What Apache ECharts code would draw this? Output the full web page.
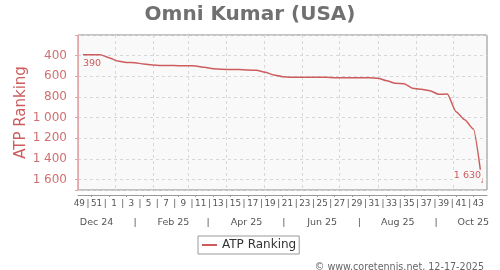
<!DOCTYPE html>
<html>
<head>
<meta charset="utf-8">
<script src="https://cdn.jsdelivr.net/npm/echarts@6/dist/echarts.min.js"></script>
<style>
html,body{margin:0;padding:0;background:#fff;}
#c{width:500px;height:270px;}
</style>
</head>
<body>
<div id="c"></div>
<script>
// ---- data ----
const weekLabels = ['49','50','51','52','1','2','3','4','5','6','7','8','9','10','11','12','13','14','15','16','17','18','19','20','21','22','23','24','25','26','27','28','29','30','31','32','33','34','35','36','37','38','39','40','41','42','43'];
const ranking = [390,390,390,419,452,465,468,481,490,494,494,497,497,500,513,526,532,535,535,539,542,561,587,603,610,610,610,610,610,613,613,613,613,613,619,642,668,671,716,726,739,774,771,942,1019,1110,1630];
const monthLabels = ['Dec 24','Feb 25','Apr 25','Jun 25','Aug 25','Oct 25'];
const yTicks = [400,600,800,1000,1200,1400,1600];
const titleText = 'Omni Kumar (USA)';
const seriesName = 'ATP Ranking';
const credit = '\u00a9 www.coretennis.net, 12-17-2025';

// ---- x positions measured in days since 2 Dec 2024 ----
const DAY = 86400000;
const origin = Date.UTC(2024, 11, 2);
const dayOf = (y, m, d) => Math.round((Date.UTC(y, m, d) - origin) / DAY);
const firstPoint = dayOf(2024, 11, 6);
const axisMin = 0;
const axisMax = dayOf(2025, 9, 28);
const pointDays = weekLabels.map((w, i) => firstPoint + i * 7);

const fmtNum = v => String(v).replace(/\B(?=(\d{3})+(?!\d))/g, ' ');

// week label row: numbers at even indices, separators at odd indices
const weekLabelMap = new Map();
const weekLabelVals = [];
pointDays.forEach((d, i) => {
  const pos = d - 3;
  weekLabelVals.push(pos);
  weekLabelMap.set(pos, i % 2 === 0 ? weekLabels[i] : '|');
});
const weekTickVals = pointDays.filter((d, i) => i % 2 === 1);

// month grid lines at each month start
const monthGrid = [];
for (let m = 0; m < 10; m++) monthGrid.push(dayOf(2025, m, 1));

// month labels row
const monthMap = new Map();
const monthVals = [];
[[2024,11],[2025,1],[2025,3],[2025,5],[2025,7],[2025,9]].forEach((ym, k) => {
  const d = dayOf(ym[0], ym[1], 17);
  monthVals.push(d); monthMap.set(d, monthLabels[k]);
});
[[2025,0],[2025,2],[2025,4],[2025,6],[2025,8]].forEach(ym => {
  const d = dayOf(ym[0], ym[1], 17);
  monthVals.push(d); monthMap.set(d, '|');
});

const lineColor = '#cd5c5c';
const font = 'DejaVu Sans';

const seriesData = ranking.map((r, i) => {
  const item = { value: [pointDays[i], r] };
  if (i === 0) {
    item.label = { show: true, position: 'right', offset: [-5, 9] };
  } else if (i === ranking.length - 1) {
    item.label = { show: true, position: 'left', offset: [5, -7], backgroundColor: '#f9f9f9', padding: [1, 1] };
  }
  return item;
});

const chart = echarts.init(document.getElementById('c'), null, { renderer: 'canvas' });
chart.setOption({
  animation: false,
  title: [
    { text: titleText, left: 'center', top: 0,
      textStyle: { fontFamily: font, fontSize: 20, fontWeight: 'bold', color: '#707070' } },
    { text: credit, right: 11, top: 257,
      textStyle: { fontFamily: font, fontSize: 9.6, fontWeight: 'normal', color: '#666' } }
  ],
  legend: {
    data: [seriesName], left: 198, top: 236, selectedMode: false,
    icon: 'rect', itemWidth: 15, itemHeight: 2,
    padding: [3, 3, 3, 4], borderColor: '#999', borderWidth: 1,
    textStyle: { fontFamily: font, fontSize: 12, color: '#333' }
  },
  grid: { left: 78, right: 13, top: 35, bottom: 80, show: true,
    backgroundColor: '#f9f9f9', borderColor: '#888', borderWidth: 1 },
  xAxis: [
    { type: 'value', min: axisMin, max: axisMax, position: 'bottom', offset: 5,
      axisLine: { show: true, lineStyle: { color: '#999', width: 1 } },
      axisTick: { show: true, customValues: weekTickVals, length: 2, lineStyle: { color: '#999' } },
      axisLabel: { show: true, customValues: weekLabelVals, margin: 4, hideOverlap: false,
        fontFamily: font, fontSize: 8.8, color: '#555',
        formatter: v => weekLabelMap.has(v) ? weekLabelMap.get(v) : '' },
      splitLine: { show: false } },
    { type: 'value', min: axisMin, max: axisMax, position: 'bottom',
      axisLine: { show: false },
      axisTick: { show: false, customValues: monthGrid },
      axisLabel: { show: false },
      splitLine: { show: true, lineStyle: { color: '#d8d8d8', type: [3, 3], width: 1 } } },
    { type: 'value', min: axisMin, max: axisMax, position: 'bottom', offset: 5,
      axisLine: { show: false }, axisTick: { show: false },
      axisLabel: { show: true, customValues: monthVals, margin: 23, hideOverlap: false,
        fontFamily: font, fontSize: 9.5, color: '#555',
        formatter: v => monthMap.has(v) ? monthMap.get(v) : '' },
      splitLine: { show: false } }
  ],
  yAxis: {
    type: 'value', inverse: true, min: 200, max: 1700, interval: 200, offset: 5,
    name: seriesName, nameLocation: 'middle', nameGap: 44, nameMoveOverlap: false,
    nameTextStyle: { fontFamily: font, fontSize: 15, color: lineColor },
    axisLine: { show: true, lineStyle: { color: '#e0a8a8', width: 1 } },
    axisTick: { show: true, length: 3, lineStyle: { color: '#e0a8a8' } },
    axisLabel: { margin: 6, fontFamily: font, fontSize: 12, color: '#d07070',
      formatter: v => yTicks.includes(v) ? fmtNum(v) : '' },
    splitLine: { show: true, lineStyle: { color: '#d8d8d8', type: [3, 3], width: 1 } }
  },
  series: [{
    name: seriesName, type: 'line', xAxisIndex: 0, data: seriesData,
    symbol: 'circle', symbolSize: 0.01, showSymbol: true,
    smooth: 0.2, smoothMonotone: 'x',
    lineStyle: { color: lineColor, width: 1.5 }, itemStyle: { color: lineColor },
    label: { show: false, fontFamily: font, fontSize: 9.5, color: lineColor,
      formatter: p => fmtNum(p.value[1]) }
  }]
});
</script>
</body>
</html>
